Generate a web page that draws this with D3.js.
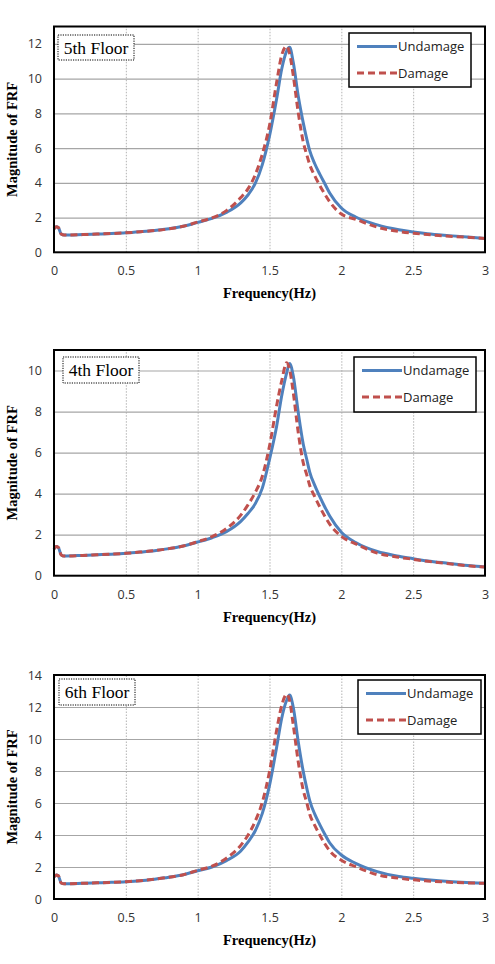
<!DOCTYPE html>
<html>
<head>
<meta charset="utf-8">
<script src="https://cdn.jsdelivr.net/npm/d3@7/dist/d3.min.js"></script>
<style>
  html, body { margin: 0; padding: 0; background: #fff; }
  svg { display: block; }
</style>
</head>
<body>
<svg id="chart" width="495" height="964"></svg>
<script>
// ---------------- DATA ----------------
const freq = [0, 0.015, 0.03, 0.05, 0.07, 0.2, 0.3, 0.4, 0.5, 0.6, 0.7, 0.8, 0.9, 1.0, 1.1, 1.2, 1.3, 1.35, 1.4, 1.45, 1.5, 1.55, 1.585, 1.62, 1.64, 1.665, 1.7, 1.735, 1.76, 1.78, 1.815, 1.85, 1.885, 1.92, 2.0, 2.1, 2.25, 2.4, 2.5, 2.6, 2.75, 2.9, 3.0];

// 5th floor
const undamage5 = [1.35, 1.47, 1.43, 1.05, 0.99, 1.02, 1.05, 1.08, 1.12, 1.18, 1.25, 1.35, 1.5, 1.72, 1.95, 2.3, 2.85, 3.3, 3.95, 5.05, 6.7, 8.85, 10.55, 11.6, 11.8, 10.95, 9.0, 7.45, 6.5, 5.85, 5.1, 4.5, 3.95, 3.4, 2.55, 2.03, 1.58, 1.3, 1.17, 1.07, 0.96, 0.86, 0.8];
const damage5   = [1.35, 1.47, 1.43, 1.05, 0.99, 1.02, 1.05, 1.08, 1.12, 1.18, 1.25, 1.35, 1.5, 1.74, 1.98, 2.4, 3.15, 3.65, 4.45, 5.65, 7.3, 9.8, 11.35, 11.86, 11.45, 10.2, 8.05, 6.35, 5.6, 5.05, 4.4, 3.85, 3.35, 2.9, 2.2, 1.9, 1.45, 1.2, 1.1, 1.02, 0.93, 0.85, 0.8];

// 4th floor
const undamage4 = [1.3, 1.42, 1.38, 1.02, 0.96, 0.99, 1.02, 1.05, 1.09, 1.15, 1.22, 1.32, 1.45, 1.64, 1.85, 2.15, 2.65, 3.03, 3.5, 4.27, 5.67, 7.3, 8.77, 9.9, 10.34, 9.75, 7.96, 6.41, 5.65, 5.05, 4.4, 3.85, 3.35, 2.9, 2.12, 1.62, 1.18, 0.95, 0.83, 0.72, 0.6, 0.48, 0.42];
const damage4   = [1.3, 1.42, 1.38, 1.02, 0.96, 0.99, 1.02, 1.05, 1.09, 1.15, 1.22, 1.32, 1.45, 1.66, 1.9, 2.3, 2.95, 3.45, 4.05, 4.85, 6.32, 8.3, 9.5, 10.38, 10.05, 8.95, 6.98, 5.5, 4.9, 4.4, 3.85, 3.35, 2.9, 2.5, 1.92, 1.55, 1.1, 0.9, 0.8, 0.7, 0.58, 0.47, 0.42];

// 6th floor
const undamage6 = [1.38, 1.5, 1.45, 1.0, 0.95, 0.98, 1.01, 1.04, 1.08, 1.14, 1.24, 1.36, 1.52, 1.77, 2.0, 2.4, 3.0, 3.55, 4.25, 5.35, 7.1, 9.5, 11.3, 12.44, 12.75, 12.0, 9.83, 7.96, 6.9, 6.15, 5.3, 4.65, 4.05, 3.5, 2.75, 2.23, 1.71, 1.4, 1.29, 1.2, 1.09, 1.02, 0.98];
const damage6   = [1.38, 1.5, 1.45, 1.0, 0.95, 0.98, 1.01, 1.04, 1.08, 1.14, 1.24, 1.36, 1.52, 1.79, 2.05, 2.55, 3.35, 3.98, 4.85, 6.05, 7.96, 10.56, 12.1, 12.8, 12.4, 10.9, 8.58, 6.8, 6.0, 5.3, 4.6, 4.0, 3.45, 3.0, 2.42, 2.02, 1.52, 1.3, 1.2, 1.13, 1.05, 1.0, 0.98];

const xTicks = [0, 0.5, 1, 1.5, 2, 2.5, 3];
const xTickLabels = ["0", "0.5", "1", "1.5", "2", "2.5", "3"];
const seriesNames = ["Undamage", "Damage"];
const panelTitles = ["5th Floor", "4th Floor", "6th Floor"];
const yMaxes = [13, 11, 14];
const yTicks5 = [0, 2, 4, 6, 8, 10, 12];
const yTicks4 = [0, 2, 4, 6, 8, 10];
const yTicks6 = [0, 2, 4, 6, 8, 10, 12, 14];
const xTitle = "Frequency(Hz)";
const yTitle = "Magnitude of FRF";

// ---------------- LAYOUT ----------------
const panels = [
  { title: panelTitles[0], u: undamage5, d: damage5, yMax: yMaxes[0], yTicks: yTicks5,
    top: 26.5, bottom: 252.3, titleBox: [58, 35, 76, 25], legend: [349, 33, 122, 54] },
  { title: panelTitles[1], u: undamage4, d: damage4, yMax: yMaxes[1], yTicks: yTicks4,
    top: 350, bottom: 575.7, titleBox: [63, 357, 76, 26], legend: [354, 357, 122, 55] },
  { title: panelTitles[2], u: undamage6, d: damage6, yMax: yMaxes[2], yTicks: yTicks6,
    top: 675, bottom: 899, titleBox: [59, 679, 76, 26], legend: [358, 680, 123, 54] }
];
const left = 54, right = 485;
const blue = "#4F81BD", red = "#C0504D";
const sansFont = "'Open Sans', 'Liberation Sans', sans-serif";
const serifFont = "'Liberation Serif', 'DejaVu Serif', serif";

const svg = d3.select("#chart");
const x = d3.scaleLinear().domain([0, 3]).range([left, right]);

panels.forEach(p => {
  const y = d3.scaleLinear().domain([0, p.yMax]).range([p.bottom, p.top]);
  const g = svg.append("g");

  // vertical dotted gridlines
  g.append("g")
    .attr("transform", `translate(0,${p.bottom})`)
    .call(d3.axisBottom(x).tickValues(xTicks.slice(1, -1)).tickSize(-(p.bottom - p.top)).tickFormat(""))
    .call(s => s.select(".domain").remove())
    .call(s => s.selectAll("line").attr("stroke", "#b3b3b3").attr("stroke-width", 1).attr("stroke-dasharray", "1.5,1.5"));

  // horizontal gridlines
  g.append("g")
    .attr("transform", `translate(${left},0)`)
    .call(d3.axisLeft(y).tickValues(p.yTicks.filter(v => v > 0 && v < p.yMax)).tickSize(-(right - left)).tickFormat(""))
    .call(s => s.select(".domain").remove())
    .call(s => s.selectAll("line").attr("stroke", "#a6a6a6").attr("stroke-width", 1.2));

  // y tick labels
  g.append("g")
    .attr("transform", `translate(${left},0)`)
    .call(d3.axisLeft(y).tickValues(p.yTicks).tickSize(0).tickPadding(12).tickFormat(d3.format("d")))
    .call(s => s.select(".domain").remove())
    .call(s => s.selectAll("text").attr("font-family", sansFont).attr("font-size", 12.5).attr("fill", "#333"));

  // x tick labels
  g.append("g")
    .attr("transform", `translate(0,${p.bottom})`)
    .call(d3.axisBottom(x).tickValues(xTicks).tickSize(0).tickPadding(14).tickFormat((d, i) => xTickLabels[i]))
    .call(s => s.select(".domain").remove())
    .call(s => s.selectAll("text").attr("font-family", sansFont).attr("font-size", 12.5).attr("fill", "#333"));

  // lines
  const line = arr => d3.line()
    .x((d, i) => x(freq[i]))
    .y(d => y(d))
    .curve(d3.curveMonotoneX)(arr);

  g.append("path").attr("d", line(p.u))
    .attr("fill", "none").attr("stroke", blue).attr("stroke-width", 3).attr("stroke-linejoin", "round");
  g.append("path").attr("d", line(p.d))
    .attr("fill", "none").attr("stroke", red).attr("stroke-width", 3).attr("stroke-dasharray", "7,4");

  // plot border
  g.append("rect")
    .attr("x", left).attr("y", p.top)
    .attr("width", right - left).attr("height", p.bottom - p.top)
    .attr("fill", "none").attr("stroke", "#000").attr("stroke-width", 2);

  // floor label box
  const tb = p.titleBox;
  g.append("rect").attr("x", tb[0]).attr("y", tb[1]).attr("width", tb[2]).attr("height", tb[3])
    .attr("fill", "#fff").attr("stroke", "#000").attr("stroke-width", 1).attr("stroke-dasharray", "1.2,1.2");
  g.append("text").attr("x", tb[0] + tb[2] / 2).attr("y", tb[1] + tb[3] / 2 + 6)
    .attr("text-anchor", "middle").attr("font-family", serifFont).attr("font-size", 17.5)
    .attr("fill", "#000").text(p.title);

  // legend
  const lg = p.legend;
  g.append("rect").attr("x", lg[0]).attr("y", lg[1]).attr("width", lg[2]).attr("height", lg[3])
    .attr("fill", "#fff").attr("stroke", "#000").attr("stroke-width", 1.5);
  const rows = [lg[1] + 13.5, lg[1] + 40];
  seriesNames.forEach((name, i) => {
    g.append("line").attr("x1", lg[0] + 8).attr("x2", lg[0] + 48)
      .attr("y1", rows[i]).attr("y2", rows[i])
      .attr("stroke", i === 0 ? blue : red).attr("stroke-width", 3)
      .attr("stroke-dasharray", i === 0 ? null : "7,4");
    g.append("text").attr("x", lg[0] + 49).attr("y", rows[i] + 4.5)
      .attr("font-family", sansFont).attr("font-size", 13).attr("fill", "#222").text(name);
  });

  // axis titles
  g.append("text").attr("x", (left + right) / 2).attr("y", p.bottom + 46)
    .attr("text-anchor", "middle").attr("font-family", serifFont).attr("font-weight", "bold")
    .attr("font-size", 14.5).attr("fill", "#000").text(xTitle);
  g.append("text")
    .attr("transform", `translate(17,${(p.top + p.bottom) / 2}) rotate(-90)`)
    .attr("text-anchor", "middle").attr("font-family", serifFont).attr("font-weight", "bold")
    .attr("font-size", 14.5).attr("fill", "#000").text(yTitle);
});
</script>
</body>
</html>
